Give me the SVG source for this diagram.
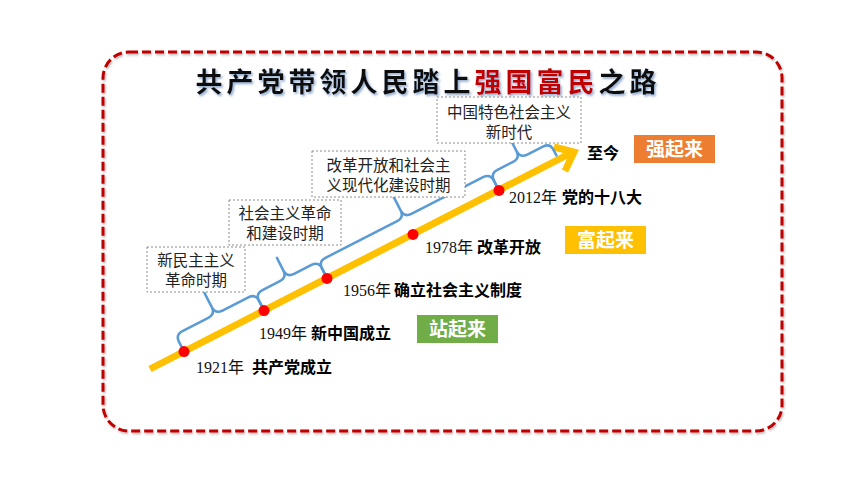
<svg xmlns="http://www.w3.org/2000/svg" width="860" height="484" viewBox="0 0 860 484">
<defs>
<filter id="ts" x="-5%" y="-20%" width="110%" height="150%">
<feDropShadow dx="1.5" dy="1.8" stdDeviation="0.9" flood-color="#7f9cc4" flood-opacity="0.85"/>
</filter>
<filter id="bs" x="-5%" y="-5%" width="110%" height="110%">
<feDropShadow dx="1" dy="1.5" stdDeviation="1" flood-color="#000" flood-opacity="0.3"/>
</filter>
<style>
.brace{fill:none;stroke:#5B9BD5;stroke-width:2.5;stroke-linecap:round;stroke-linejoin:round}
.dot{fill:#FF0000}
.pbox{fill:#fff;stroke:#8c8c8c;stroke-width:1;stroke-dasharray:2 2}
.ptxt{font-family:"Noto Sans CJK SC",sans-serif;font-size:15.5px;fill:#222;text-anchor:middle}
.yr{font-family:"Liberation Serif","Noto Sans CJK SC",serif;font-size:16px;fill:#111}
.ev{font-family:"Noto Sans CJK SC",sans-serif;font-size:16px;font-weight:bold;fill:#000}
.tag{font-family:"Noto Sans CJK SC",sans-serif;font-size:19px;font-weight:bold;fill:#fff;text-anchor:middle}
</style>
</defs>
<rect width="860" height="484" fill="#fff"/>
<rect x="103" y="52" width="679" height="379" rx="26" ry="26" fill="none" stroke="#C00000" stroke-width="3" stroke-dasharray="9 4" filter="url(#bs)"/>
<text x="428" y="92" font-family="Noto Sans CJK SC, sans-serif" font-size="27" font-weight="bold" letter-spacing="4" text-anchor="middle" filter="url(#ts)" fill="#111">共产党带领人民踏上<tspan fill="#C00000">强国富民</tspan>之路</text>

<g id="connectors">
<line x1="150" y1="369" x2="570" y2="153.5" stroke="#FFC000" stroke-width="7"/>
<polyline points="554,147 574,152 565,171" fill="none" stroke="#FFC000" stroke-width="7" stroke-linejoin="miter" stroke-linecap="butt"/>
<path class="brace" transform="translate(184,351.6) rotate(-27.1)" d="M0,-5 V-11 Q0,-19 8,-19 H37 Q45,-19 45,-27 V-43 M45,-27 Q45,-19 53,-19 H82 Q90,-19 90,-11 V-5"/>
<path class="brace" transform="translate(264,310.6) rotate(-27.1)" d="M0,-5 V-11 Q0,-19 8,-19 H27.5 Q35.5,-19 35.5,-27 V-41 M35.5,-27 Q35.5,-19 43.5,-19 H63 Q71,-19 71,-11 V-5"/>
<path class="brace" transform="translate(327,278.4) rotate(-27.1)" d="M0,-5 V-11 Q0,-19 8,-19 H88.5 Q96.5,-19 96.5,-27 V-45 M96.5,-27 Q96.5,-19 104.5,-19 H185 Q193,-19 193,-11 V-5"/>
<path class="brace" transform="translate(499,190.4) rotate(-27.1)" d="M0,-5 V-11 Q0,-19 8,-19 H25.5 Q33.5,-19 33.5,-27 V-44 M33.5,-27 Q33.5,-19 41.5,-19 H59 Q67,-19 67,-11 V-5"/>
</g>

<g id="dot1921"><circle class="dot" cx="184" cy="351.6" r="5.5"/><text x="196" y="373" class="yr">1921年</text><text x="252" y="373" class="ev">共产党成立</text></g>
<g id="dot1949"><circle class="dot" cx="264" cy="310.6" r="5.5"/><text x="259" y="339" class="yr">1949年</text><text x="311" y="339" class="ev">新中国成立</text></g>
<g id="dot1956"><circle class="dot" cx="327" cy="278.4" r="5.5"/><text x="343" y="296" class="yr">1956年</text><text x="394" y="296" class="ev">确立社会主义制度</text></g>
<g id="dot1978"><circle class="dot" cx="413" cy="234.4" r="5.5"/><text x="425" y="253" class="yr">1978年</text><text x="477" y="253" class="ev">改革开放</text></g>
<g id="dot2012"><circle class="dot" cx="499" cy="190.4" r="5.5"/><text x="509" y="203" class="yr">2012年</text><text x="562" y="203" class="ev">党的十八大</text></g>
<g id="now"><text x="587" y="159" class="ev">至今</text></g>

<g id="period1"><rect class="pbox" x="147" y="247" width="98" height="45"/><text class="ptxt" x="196" y="266">新民主主义</text><text class="ptxt" x="196" y="286">革命时期</text></g>
<g id="period2"><rect class="pbox" x="229" y="200" width="112" height="45"/><text class="ptxt" x="285" y="219">社会主义革命</text><text class="ptxt" x="285" y="239">和建设时期</text></g>
<g id="period3"><rect class="pbox" x="312" y="151" width="153" height="46"/><text class="ptxt" x="388.5" y="171">改革开放和社会主</text><text class="ptxt" x="388.5" y="191">义现代化建设时期</text></g>
<g id="period4"><rect class="pbox" x="437" y="97" width="144" height="46"/><text class="ptxt" x="509" y="117.5">中国特色社会主义</text><text class="ptxt" x="509" y="137.5">新时代</text></g>

<g id="tag-stand"><rect x="417" y="315" width="81" height="28" fill="#70AD47"/><text class="tag" x="457.5" y="336">站起来</text></g>
<g id="tag-rich"><rect x="565" y="226" width="81" height="28" fill="#FFC000"/><text class="tag" x="605.5" y="247">富起来</text></g>
<g id="tag-strong"><rect x="634" y="135" width="81" height="28" fill="#ED7D31"/><text class="tag" x="674.5" y="156">强起来</text></g>
</svg>
